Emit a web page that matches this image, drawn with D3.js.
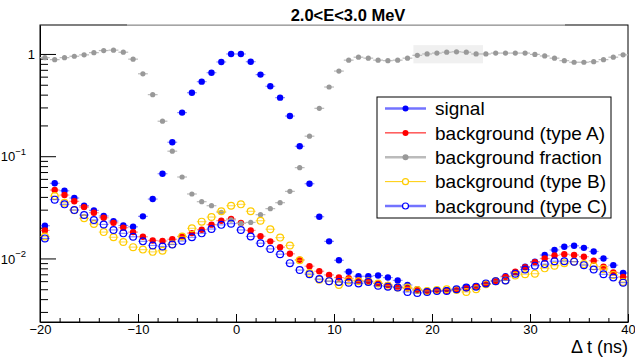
<!DOCTYPE html>
<html>
<head>
<meta charset="utf-8">
<script src="https://cdn.jsdelivr.net/npm/d3@7"></script>
<style>
  body { margin: 0; background: #fff; }
  svg { font-family: "Liberation Sans", Arial, sans-serif; }
</style>
</head>
<body>
<svg id="plot" width="635" height="358"></svg>
<script>
// bin centres (ns)
const binCenters = [
  -19.5, -18.5, -17.5, -16.5, -15.5, -14.5, -13.5, -12.5, -11.5, -10.5,
  -9.5, -8.5, -7.5, -6.5, -5.5, -4.5, -3.5, -2.5, -1.5, -0.5,
  0.5, 1.5, 2.5, 3.5, 4.5, 5.5, 6.5, 7.5, 8.5, 9.5,
  10.5, 11.5, 12.5, 13.5, 14.5, 15.5, 16.5, 17.5, 18.5, 19.5,
  20.5, 21.5, 22.5, 23.5, 24.5, 25.5, 26.5, 27.5, 28.5, 29.5,
  30.5, 31.5, 32.5, 33.5, 34.5, 35.5, 36.5, 37.5, 38.5, 39.5
];

const signal = [
  0.0209, 0.0543, 0.0459, 0.039, 0.0328, 0.0295, 0.026, 0.0232, 0.021, 0.0204,
  0.0258, 0.0381, 0.0674, 0.137, 0.267, 0.418, 0.536, 0.656, 0.835, 1.0,
  1.0, 0.84, 0.628, 0.483, 0.374, 0.247, 0.125, 0.0538, 0.0256, 0.0147,
  0.0096, 0.0074, 0.0067, 0.0067, 0.0068, 0.0065, 0.0061, 0.0055, 0.0050, 0.00483,
  0.0048, 0.0049, 0.0050, 0.0052, 0.0053, 0.0056, 0.0061, 0.0067, 0.0073, 0.0083,
  0.0093, 0.0108, 0.0121, 0.0130, 0.0133, 0.0127, 0.0117, 0.0100, 0.0086, 0.0072
];

const bkgA = [
  0.0188, 0.0467, 0.0417, 0.0362, 0.0318, 0.028, 0.025, 0.0223, 0.020, 0.0181,
  0.0163, 0.0150, 0.0148, 0.0154, 0.0164, 0.0177, 0.0191, 0.0214, 0.0234, 0.0243,
  0.0222, 0.0188, 0.0165, 0.0147, 0.0129, 0.0111, 0.0097, 0.0084, 0.0075, 0.0069,
  0.0065, 0.0064, 0.0061, 0.0060, 0.0057, 0.0055, 0.0053, 0.0051, 0.0049, 0.0048,
  0.0048, 0.00483, 0.0049, 0.0051, 0.0053, 0.0056, 0.0060, 0.0066, 0.0074, 0.0082,
  0.0092, 0.0100, 0.0107, 0.0110, 0.0108, 0.0104, 0.0095, 0.0083, 0.0073, 0.0066
];

const bkgFraction = [
  0.92, 0.88, 0.92, 0.95, 0.98, 1.03, 1.08, 1.09, 1.04, 0.89,
  0.64, 0.40, 0.22, 0.112, 0.0626, 0.0427, 0.0359, 0.0328, 0.0283, 0.0238,
  0.022, 0.0225, 0.0268, 0.0307, 0.0351, 0.0453, 0.0773, 0.157, 0.294, 0.475,
  0.68, 0.87, 0.93, 0.91, 0.87, 0.86, 0.87, 0.91, 0.97, 1.0,
  1.02, 1.04, 1.05, 1.04, 1.0, 1.0, 1.02, 1.02, 1.02, 1.02,
  0.99, 0.956, 0.91, 0.86, 0.83, 0.83, 0.84, 0.88, 0.93, 0.98
];

const bkgB = [
  0.0164, 0.0408, 0.0351, 0.0296, 0.0247, 0.0217, 0.0181, 0.0161, 0.0145, 0.0129,
  0.0122, 0.0116, 0.0119, 0.0138, 0.0164, 0.0197, 0.0229, 0.0254, 0.0289, 0.0328,
  0.0338, 0.0289, 0.0234, 0.0193, 0.0160, 0.0134, 0.0096, 0.0072, 0.0062, 0.0060,
  0.0055, 0.0061, 0.0060, 0.0060, 0.0057, 0.0054, 0.0052, 0.0052, 0.0049, 0.0048,
  0.0049, 0.0050, 0.0049, 0.0047, 0.0050, 0.0056, 0.0060, 0.0061, 0.0068, 0.0070,
  0.0071, 0.0080, 0.0085, 0.0090, 0.0093, 0.0088, 0.0084, 0.0079, 0.0069, 0.0059
];

const bkgC = [
  0.0157, 0.0376, 0.0338, 0.0298, 0.0266, 0.0238, 0.0215, 0.0190, 0.0176, 0.0163,
  0.0147, 0.0134, 0.0131, 0.0137, 0.0148, 0.0161, 0.0176, 0.0194, 0.0213, 0.0219,
  0.0190, 0.0164, 0.0141, 0.0124, 0.0110, 0.0090, 0.0077, 0.0070, 0.0063, 0.0060,
  0.0059, 0.0058, 0.0057, 0.0059, 0.0054, 0.0053, 0.0052, 0.0047, 0.0046, 0.0047,
  0.0048, 0.0048, 0.0050, 0.0052, 0.0053, 0.0057, 0.0060, 0.0061, 0.0071, 0.0078,
  0.0085, 0.0088, 0.0094, 0.0094, 0.0093, 0.0086, 0.0078, 0.0070, 0.0065, 0.0058
];

const xMajorTicks = [-20, -10, 0, 10, 20, 30, 40];
const yMajorTicks = [1, 0.1, 0.01];
const yTickLabels = [["1", ""], ["10", "\u22121"], ["10", "\u22122"]];
const legendLabels = ["signal", "background (type A)", "background fraction", "background (type B)", "background (type C)"];
// light grey highlighted box in the upper plateau: [t0, t1], [v0, v1]
const boxT = [18.1, 25.2];
const boxV = [0.81, 1.22];

const series = [
  { name: legendLabels[0], values: signal, color: "#0000ff", bar: "rgba(0,0,255,0.45)", legLine: "rgba(0,0,255,0.55)", open: false, r: 3.2, lw: 2.5 },
  { name: legendLabels[1], values: bkgA, color: "#ff0000", bar: "rgba(255,0,0,0.45)", legLine: "#ff0000", open: false, r: 3.2, lw: 1 },
  { name: legendLabels[2], values: bkgFraction, color: "#999999", bar: "#bbbbbb", legLine: "#bbbbbb", open: false, r: 2.6, lw: 2.5 },
  { name: legendLabels[3], values: bkgB, color: "#ffcc00", bar: "rgba(255,204,0,0.6)", legLine: "#ffcc00", open: true, r: 3.4, lw: 1 },
  { name: legendLabels[4], values: bkgC, color: "#0000ff", bar: "rgba(0,0,255,0.45)", legLine: "rgba(0,0,255,0.55)", open: true, r: 3.4, lw: 2.5 }
];

const svg = d3.select("#plot");
const mLeft = 40, mRight = 628, mTop = 25, mBottom = 322;

const x = d3.scaleLinear().domain([-20, 40]).range([mLeft, mRight]);
const y = d3.scaleLog().domain([0.00239, 1.92]).range([mBottom, mTop]);

// highlighted box
svg.append("rect")
  .attr("x", x(boxT[0])).attr("y", y(boxV[1]))
  .attr("width", x(boxT[1]) - x(boxT[0]))
  .attr("height", y(boxV[0]) - y(boxV[1]))
  .attr("fill", "#f0f0f0");

// frame
svg.append("rect")
  .attr("x", mLeft).attr("y", mTop)
  .attr("width", mRight - mLeft).attr("height", mBottom - mTop)
  .attr("fill", "none").attr("stroke", "#000").attr("stroke-width", 1);

// x axis
const xAxis = svg.append("g").attr("transform", `translate(0,${mBottom})`)
  .call(d3.axisBottom(x).tickValues(xMajorTicks).tickSizeInner(-8).tickSizeOuter(0).tickPadding(3)
    .tickFormat(d => d < 0 ? "\u2212" + Math.abs(d) : d));
xAxis.select(".domain").attr("stroke", "#000");
xAxis.selectAll("text").attr("font-size", 13).attr("font-family", "Liberation Sans, Arial").attr("fill", "#000");
const xMinor = d3.range(-18, 40, 2).filter(d => d % 10 !== 0);
svg.append("g").attr("transform", `translate(0,${mBottom})`)
  .call(d3.axisBottom(x).tickValues(xMinor).tickSizeInner(-4).tickSizeOuter(0).tickFormat(""))
  .call(g => g.select(".domain").remove());

// y axis
const yAxis = svg.append("g").attr("transform", `translate(${mLeft},0)`)
  .call(d3.axisLeft(y).tickValues(yMajorTicks).tickSizeInner(-16).tickSizeOuter(0).tickFormat(""));
yAxis.select(".domain").attr("stroke", "#000");
yAxis.selectAll(".tick").each(function (d, i) {
  const t = d3.select(this).select("text")
    .attr("font-size", 13).attr("font-family", "Liberation Sans, Arial").attr("fill", "#000")
    .attr("x", -5).attr("dy", "0.36em");
  const lab = yTickLabels[i];
  if (lab[1] === "") {
    t.text(lab[0]);
  } else {
    t.attr("x", -14);
    t.append("tspan").text(lab[0]);
    t.append("tspan").attr("font-size", 9.5).attr("dy", "-0.7em").text(lab[1]);
  }
});
const yMinor = [];
[0.001, 0.01, 0.1, 1].forEach(dec => {
  for (let k = 2; k <= 9; k++) {
    const v = dec * k;
    if (v > y.domain()[0] && v < y.domain()[1]) yMinor.push(v);
  }
});
svg.append("g").attr("transform", `translate(${mLeft},0)`)
  .call(d3.axisLeft(y).tickValues(yMinor).tickSizeInner(-8).tickSizeOuter(0).tickFormat(""))
  .call(g => g.select(".domain").remove());

// data points
series.forEach(s => {
  const g = svg.append("g");
  const pts = binCenters.map((t, i) => ({ t: t, v: s.values[i] }));
  g.selectAll("line").data(pts).join("line")
    .attr("x1", d => x(d.t - 0.5)).attr("x2", d => x(d.t + 0.5))
    .attr("y1", d => y(d.v)).attr("y2", d => y(d.v))
    .attr("stroke", s.bar).attr("stroke-width", 1.2);
  g.selectAll("circle").data(pts).join("circle")
    .attr("cx", d => x(d.t)).attr("cy", d => y(d.v))
    .attr("r", s.r)
    .attr("fill", s.open ? "none" : s.color)
    .attr("stroke", s.open ? s.color : "none")
    .attr("stroke-width", 1.2);
});

// title box
svg.append("rect").attr("x", 127).attr("y", 0).attr("width", 438).attr("height", 24.5).attr("fill", "#fff");
svg.append("line").attr("x1", 127).attr("x2", 565).attr("y1", 25).attr("y2", 25)
  .attr("stroke", "#cccccc").attr("stroke-width", 1);
svg.append("text").attr("x", 348).attr("y", 21)
  .attr("text-anchor", "middle").attr("font-weight", "bold").attr("font-size", 16.5)
  .text("2.0<E<3.0 MeV");

// axis title
svg.append("text").attr("x", 628).attr("y", 353)
  .attr("text-anchor", "end").attr("font-size", 18)
  .text("\u0394 t (ns)");

// legend
const lg = svg.append("g");
lg.append("rect").attr("x", 377).attr("y", 97).attr("width", 234).attr("height", 121)
  .attr("fill", "#fff").attr("stroke", "#000").attr("stroke-width", 1);
const rowY = d3.scalePoint().domain(legendLabels).range([108.5, 206]);
series.forEach(s => {
  const yy = rowY(s.name);
  lg.append("line").attr("x1", 385).attr("x2", 426).attr("y1", yy).attr("y2", yy)
    .attr("stroke", s.legLine).attr("stroke-width", s.lw);
  lg.append("circle").attr("cx", 405.5).attr("cy", yy).attr("r", 3)
    .attr("fill", s.open ? "#fff" : s.color)
    .attr("stroke", s.open ? s.color : "none").attr("stroke-width", 1.2);
  lg.append("text").attr("x", 435).attr("y", yy).attr("dy", "0.36em")
    .attr("font-size", 19).text(s.name);
});
</script>
</body>
</html>
